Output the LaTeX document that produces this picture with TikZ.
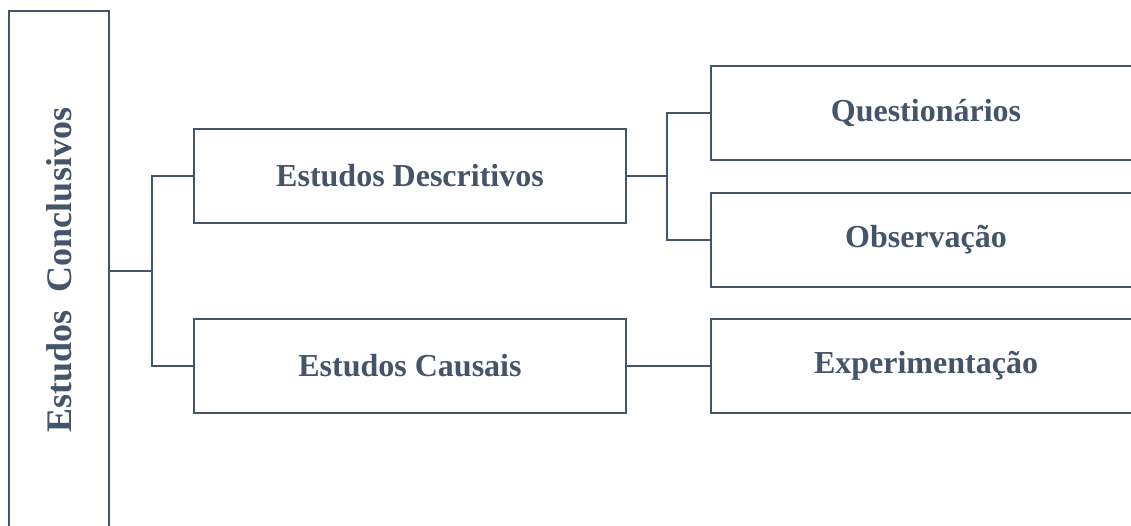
\documentclass[tikz,border=0pt]{standalone}
\usepackage{fontspec}
\setmainfont{Liberation Serif}
\begin{document}
\begin{tikzpicture}[x=1pt,y=-1pt,
  every node/.style={inner sep=0pt},
  label font/.style={font=\fontsize{32}{38}\selectfont\bfseries},
  box/.style={draw=slate, fill=white, text=slate, label font, line width=2.8pt,
    minimum width=432pt, minimum height=94pt},
  wide/.style={box, minimum width=430pt},
  link/.style={draw=slate, line width=2.8pt}]
\definecolor{slate}{HTML}{44546A}
\useasboundingbox (0,0) rectangle (1131,526);
\clip (0,0) rectangle (1131,526);
\fill[white] (0,0) rectangle (1131,526);

% root
\node[box, minimum width=100pt, minimum height=520pt] (root) at (59,271) {};
\node[text=slate, font=\fontsize{36}{42}\selectfont\bfseries, rotate=90] (rootlabel) at (59,270) {Estudos\hspace{0.5em}Conclusivos};

% second level
\node[box] (desc) at (410,176) {Estudos Descritivos};
\node[box] (caus) at (410,366) {Estudos Causais};

% third level
\node[wide] (quest) at (926,113) {Questionários};
\node[wide] (obs) at (926,240) {Observação};
\node[wide] (exp) at (926,366) {Experimentação};

% connectors
\coordinate (j1) at (152,271);
\coordinate (j2) at (667,176);
\draw[link] (root.east |- j1) -- (j1);
\draw[link] (j1) |- (desc.west);
\draw[link] (j1) |- (caus.west);
\draw[link] (desc.east) -- (j2);
\draw[link] (j2) |- (quest.west);
\draw[link] (j2) |- (obs.west);
\draw[link] (caus.east) -- (exp.west);
\end{tikzpicture}
\end{document}
